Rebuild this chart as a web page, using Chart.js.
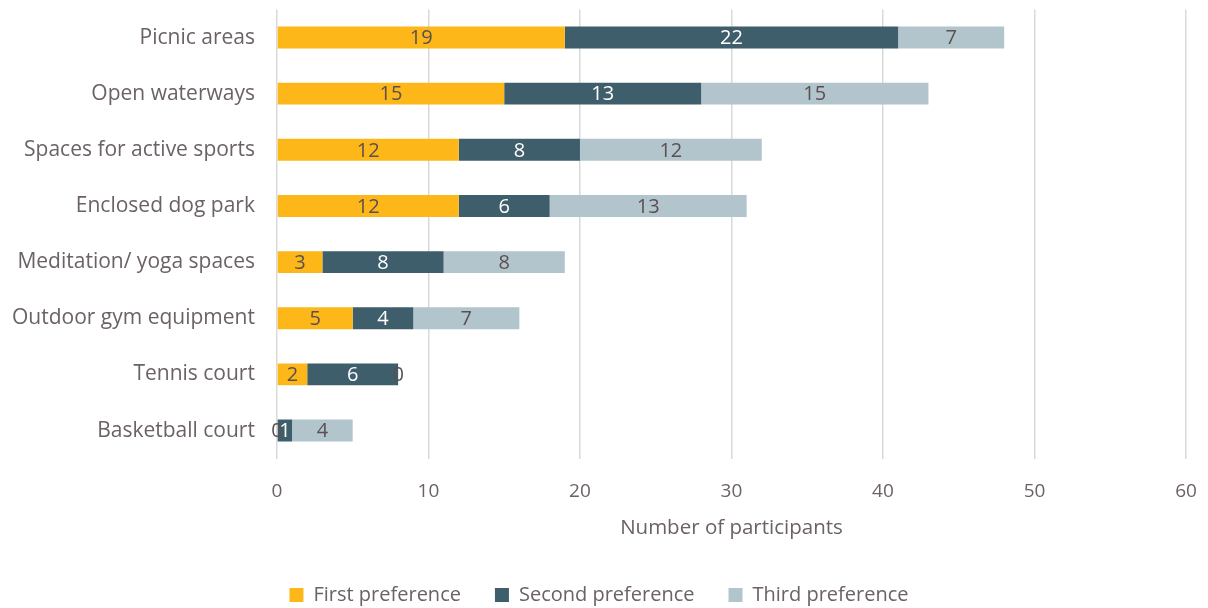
<!DOCTYPE html>
<html>
<head>
<meta charset="utf-8">
<script src="https://cdn.jsdelivr.net/npm/chart.js@4"></script>
<style>
  html, body { margin: 0; padding: 0; background: #fff; }
  #wrap { width: 1208px; height: 608px; }
</style>
</head>
<body>
<div id="wrap"><canvas id="chart" width="1208" height="608"></canvas></div>
<script>
const categories = [
    "Picnic areas",
    "Open waterways",
    "Spaces for active sports",
    "Enclosed dog park",
    "Meditation/ yoga spaces",
    "Outdoor gym equipment",
    "Tennis court",
    "Basketball court",
];
const firstPref = [19, 15, 12, 12, 3, 5, 2, 0];
const secondPref = [22, 13, 8, 6, 8, 4, 6, 1];
const thirdPref = [7, 15, 12, 13, 8, 7, 0, 4];
const xTicks = [0, 10, 20, 30, 40, 50, 60];

const textColor = "#6b6264";
const fontFamily = "'Open Sans', 'Noto Sans', sans-serif";

// draws the value in the middle of each segment
const segmentLabels = {
    id: "segmentLabels",
    afterDatasetsDraw(chart) {
        const ctx = chart.ctx;
        ctx.save();
        ctx.font = "20px " + fontFamily;
        ctx.textAlign = "center";
        ctx.textBaseline = "middle";
        chart.data.datasets.forEach((ds, i) => {
            const meta = chart.getDatasetMeta(i);
            meta.data.forEach((bar, j) => {
                const x = (bar.x + bar.base) / 2;
                ctx.fillStyle = ds.labelColor;
                ctx.fillText(String(ds.data[j]), x, bar.y + 1);
            });
        });
        ctx.restore();
    },
};

new Chart(document.getElementById("chart"), {
    type: "bar",
    data: {
        labels: categories,
        datasets: [
            {
                label: "First preference",
                data: firstPref,
                backgroundColor: "#fdb719",
                labelColor: "#5a5052",
            },
            {
                label: "Second preference",
                data: secondPref,
                backgroundColor: "#3e5e6b",
                labelColor: "#ffffff",
            },
            {
                label: "Third preference",
                data: thirdPref,
                backgroundColor: "#b2c4cc",
                labelColor: "#5a5052",
            },
        ],
    },
    options: {
        indexAxis: "y",
        responsive: false,
        animation: false,
        categoryPercentage: 0.39,
        barPercentage: 1,
        layout: { padding: { left: 12, right: 22, top: 0, bottom: -7 } },
        plugins: {
            tooltip: { enabled: false },
            legend: {
                position: "bottom",
                labels: {
                    color: textColor,
                    font: { family: fontFamily, size: 20 },
                    boxWidth: 14,
                    boxHeight: 14,
                    padding: 34,
                },
            },
        },
        scales: {
            x: {
                stacked: true,
                min: 0,
                max: 60,
                afterBuildTicks(axis) {
                    axis.ticks = xTicks.map((v) => ({ value: v }));
                },
                afterFit(axis) {
                    // tick padding shouldn't widen the right margin
                    axis.paddingRight = 0;
                },
                grid: { color: "#d9d9d9", lineWidth: 1.5, drawTicks: false },
                border: { display: false },
                ticks: {
                    color: textColor,
                    padding: 22,
                    font: { family: fontFamily, size: 19 },
                },
                title: {
                    display: true,
                    text: "Number of participants",
                    color: textColor,
                    font: { family: fontFamily, size: 20.5 },
                    padding: { top: -10, bottom: 11 },
                },
            },
            y: {
                stacked: true,
                grid: { display: false, tickLength: 22 },
                border: { display: false },
                ticks: {
                    color: textColor,
                    padding: 0,
                    font: { family: fontFamily, size: 21, lineHeight: 0.9 },
                },
            },
        },
    },
    plugins: [segmentLabels],
});
</script>
</body>
</html>
